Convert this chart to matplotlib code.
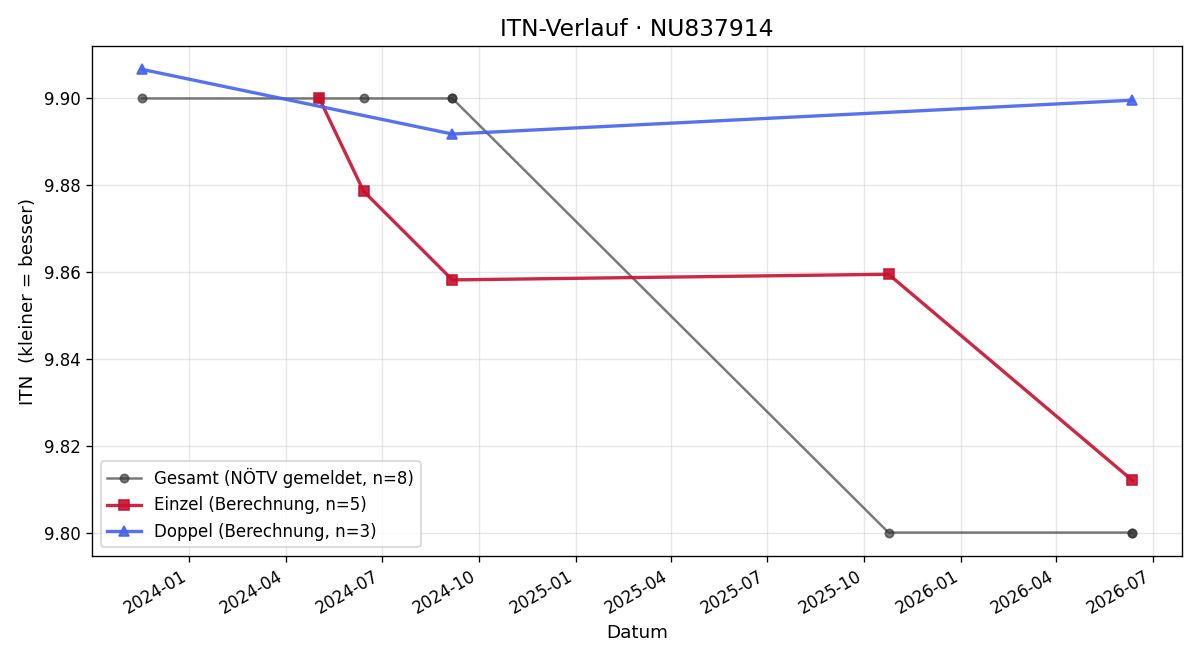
import matplotlib
matplotlib.use('Agg')
import matplotlib.pyplot as plt
import matplotlib.dates as mdates
import pandas as pd

# Gesamt (NÖTV gemeldet)
gesamt_dates = ['2023-11-17', '2024-05-03', '2024-06-14', '2024-09-06',
                '2024-09-06', '2025-10-24', '2026-06-12', '2026-06-12']
gesamt_itn = [9.90, 9.90, 9.90, 9.90, 9.90, 9.80, 9.80, 9.80]

# Einzel (Berechnung)
einzel_dates = ['2024-05-03', '2024-06-14', '2024-09-06', '2025-10-24', '2026-06-12']
einzel_itn = [9.900, 9.8786, 9.8582, 9.8595, 9.8120]

# Doppel (Berechnung)
doppel_dates = ['2023-11-17', '2024-09-06', '2026-06-12']
doppel_itn = [9.9067, 9.8918, 9.8996]

gesamt_dates = pd.to_datetime(gesamt_dates)
einzel_dates = pd.to_datetime(einzel_dates)
doppel_dates = pd.to_datetime(doppel_dates)

fig, ax = plt.subplots(figsize=(10, 5.5), dpi=120)

ax.plot(gesamt_dates, gesamt_itn, marker='o', color='#333333', alpha=0.65,
        linewidth=1.5, markersize=5, label='Gesamt (NÖTV gemeldet, n=8)')
ax.plot(einzel_dates, einzel_itn, marker='s', color='#c8102e', alpha=0.9,
        linewidth=2, markersize=6.5, label='Einzel (Berechnung, n=5)')
ax.plot(doppel_dates, doppel_itn, marker='^', color='#4563f0', alpha=0.9,
        linewidth=2, markersize=6.5, label='Doppel (Berechnung, n=3)')

ax.set_title('ITN-Verlauf · NU837914', fontsize=14)
ax.set_xlabel('Datum', fontsize=11)
ax.set_ylabel('ITN  (kleiner = besser)', fontsize=11)
ax.tick_params(labelsize=10)
ax.grid(True, alpha=0.3)
ax.legend(loc='lower left', fontsize=10)

ax.xaxis.set_major_locator(mdates.MonthLocator(bymonth=[1, 4, 7, 10]))
ax.xaxis.set_major_formatter(mdates.DateFormatter('%Y-%m'))
fig.autofmt_xdate()

fig.subplots_adjust(left=0.077, right=0.985, top=0.930, bottom=0.158)
fig.savefig('out.png')
